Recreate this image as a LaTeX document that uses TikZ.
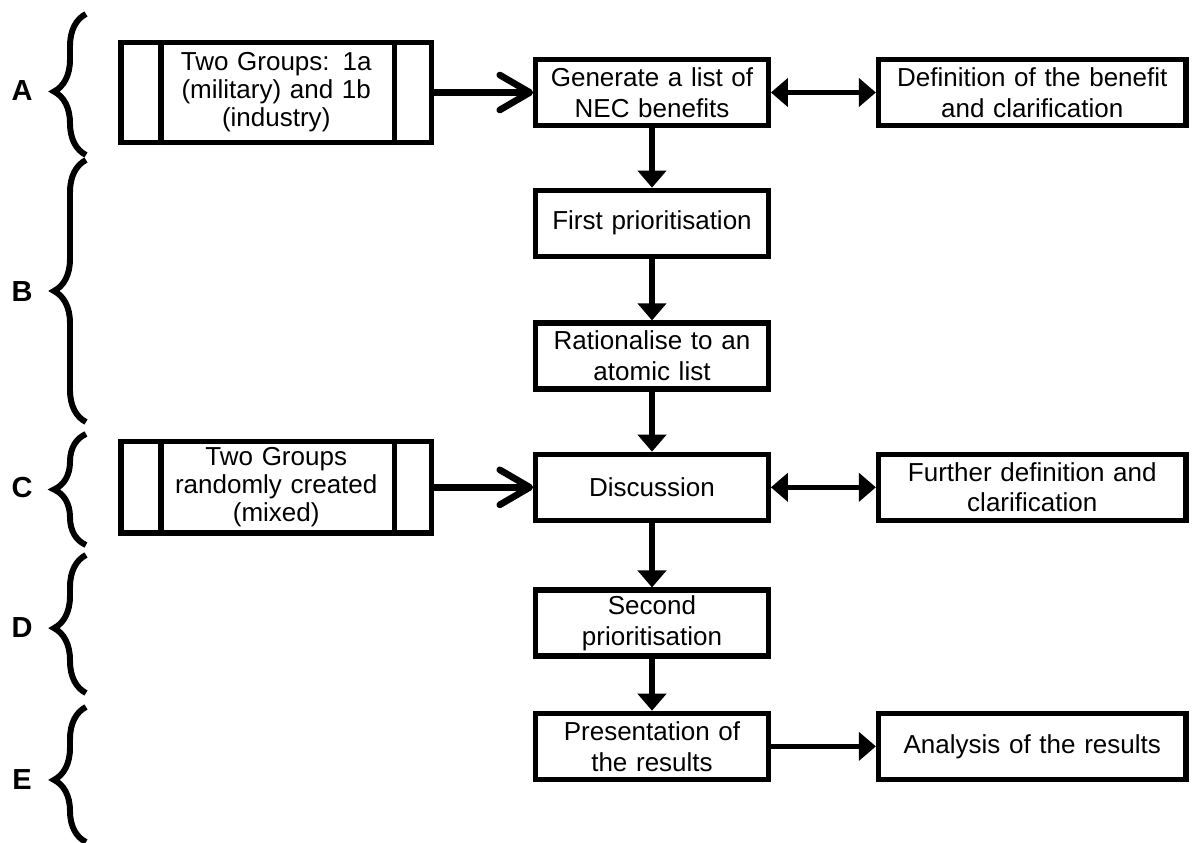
\documentclass[tikz,border=0pt]{standalone}
\usepackage{fontspec}
\setmainfont{Liberation Sans}
\usetikzlibrary{arrows.meta,positioning,decorations.pathreplacing}

\begin{document}
\begin{tikzpicture}[node distance=1.2cm, auto,
        font=\fontsize{14.8}{17.5}\selectfont,
        task/.style={rectangle, draw, line width=3pt, minimum width=4.65cm, minimum height=1.32cm, text width=4.4cm, align=center, inner sep=2pt},
        note/.style={task, minimum width=6.15cm, text width=5.9cm},
        group/.style={task, minimum width=6.21cm, text width=4.6cm, font=\fontsize{14.8}{16}\selectfont,
            path picture={\draw[line width=3pt]
                ([xshift=0.8cm]path picture bounding box.north west) -- ([xshift=0.8cm]path picture bounding box.south west)
                ([xshift=-0.74cm]path picture bounding box.north east) -- ([xshift=-0.74cm]path picture bounding box.south east);}},
        tag/.style={font=\fontsize{16.5}{18}\selectfont\bfseries},
        bracket/.style={decorate, decoration={brace, amplitude=0.64cm, aspect=#1}, line width=3.4pt},
        bracket/.default=0.5,
        flow/.style={-{Triangle[length=0.34cm,width=0.56cm]}, line width=3pt},
        twoway/.style={{Triangle[length=0.34cm,width=0.56cm]}-{Triangle[length=0.34cm,width=0.56cm]}, line width=3pt},
        feed/.style={-{Straight Barb[length=0.6cm,width=0.7cm,round]}, line width=3.8pt}]

        \useasboundingbox (0,0) rectangle (23.84,-16.86);

        \node[task] (gen) at (13.04,-1.85) {Generate a list of\\NEC benefits};
        \node[task, below=1.19cm of gen] (first) {First prioritisation};
        \node[task, below=1.23cm of first] (rat) {Rationalise to an\\atomic list};
        \node[task, below=1.2cm of rat] (disc) {Discussion};
        \node[task, below=1.29cm of disc] (second) {Second\\prioritisation};
        \node[task, below=1.04cm of second] (pres) {Presentation of\\the results};

        \node[note, right=2.1cm of gen] (def) {Definition of the benefit\\and clarification};
        \node[note, right=2.1cm of disc] (further) {Further definition and\\clarification};
        \node[note, right=2.1cm of pres] (analysis) {Analysis of the results};

        \node[group, minimum height=1.99cm, left=1.98cm of gen] (groupsA) {Two Groups: 1a\\(military) and 1b\\(industry)};
        \node[group, minimum height=1.83cm, left=1.98cm of disc] (groupsC) {Two Groups\\randomly created\\(mixed)};

        \draw[feed] (groupsA) -- (gen);
        \draw[feed] (groupsC) -- (disc);
        \draw[twoway] (gen) -- (def);
        \draw[twoway] (disc) -- (further);
        \draw[flow] (gen) -- (first);
        \draw[flow] (first) -- (rat);
        \draw[flow] (rat) -- (disc);
        \draw[flow] (disc) -- (second);
        \draw[flow] (second) -- (pres);
        \draw[flow] (pres) -- (analysis);

        \draw[bracket=0.45] (1.72,-3.1) -- (1.72,-0.28);
        \draw[bracket] (1.72,-8.44) -- (1.72,-3.2);
        \draw[bracket] (1.72,-10.9) -- (1.72,-8.68);
        \draw[bracket=0.47] (1.72,-13.86) -- (1.72,-11.1);
        \draw[bracket=0.46] (1.72,-16.84) -- (1.72,-14.14);

        \node[tag] (labA) at (0.44,-1.82) {A};
        \node[tag] (labB) at (0.44,-5.84) {B};
        \node[tag] (labC) at (0.44,-9.76) {C};
        \node[tag] (labD) at (0.44,-12.56) {D};
        \node[tag] (labE) at (0.44,-15.6) {E};
    \end{tikzpicture}
\end{document}
